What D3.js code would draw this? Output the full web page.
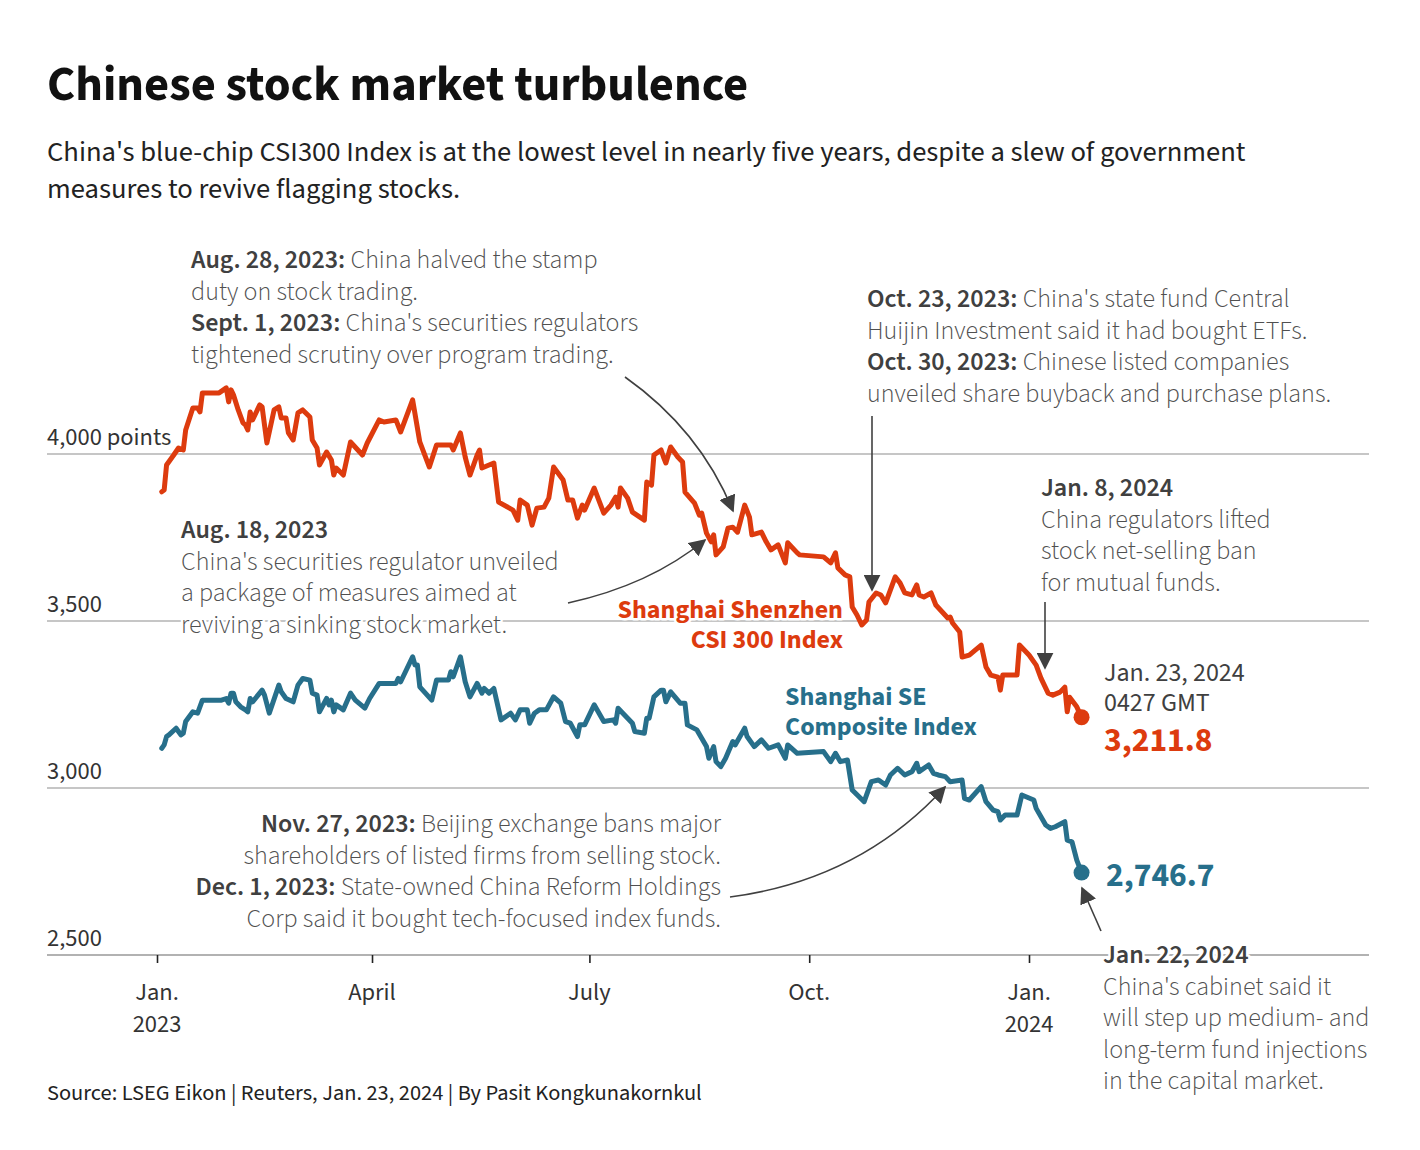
<!DOCTYPE html>
<html><head><meta charset="utf-8">
<script src="https://cdn.jsdelivr.net/npm/d3@7"></script>
<style>
html,body{margin:0;padding:0;background:#fff;}
svg{display:block;font-family:"Source Sans Pro","Source Sans 3",Lato,"Noto Sans",sans-serif;}
</style></head><body>
<svg id="c" width="1420" height="1150"></svg>
<script>
// ---------------- DATA ----------------
const csiDates = ["2023-01-03","2023-01-04","2023-01-05","2023-01-08","2023-01-10","2023-01-12","2023-01-13","2023-01-16","2023-01-18","2023-01-19","2023-01-20","2023-01-27","2023-01-30","2023-01-31","2023-02-01","2023-02-02","2023-02-04","2023-02-06","2023-02-07","2023-02-08","2023-02-09","2023-02-10","2023-02-13","2023-02-14","2023-02-16","2023-02-19","2023-02-21","2023-02-22","2023-02-24","2023-02-25","2023-02-27","2023-03-01","2023-03-03","2023-03-06","2023-03-07","2023-03-09","2023-03-10","2023-03-13","2023-03-15","2023-03-16","2023-03-17","2023-03-20","2023-03-23","2023-03-28","2023-03-30","2023-04-04","2023-04-06","2023-04-11","2023-04-13","2023-04-18","2023-04-21","2023-04-25","2023-04-28","2023-05-04","2023-05-05","2023-05-08","2023-05-10","2023-05-12","2023-05-15","2023-05-16","2023-05-17","2023-05-22","2023-05-24","2023-05-30","2023-06-01","2023-06-02","2023-06-05","2023-06-07","2023-06-09","2023-06-12","2023-06-14","2023-06-16","2023-06-20","2023-06-22","2023-06-24","2023-06-26","2023-06-28","2023-06-29","2023-07-03","2023-07-07","2023-07-10","2023-07-12","2023-07-13","2023-07-14","2023-07-17","2023-07-19","2023-07-24","2023-07-25","2023-07-27","2023-07-28","2023-07-31","2023-08-01","2023-08-02","2023-08-04","2023-08-07","2023-08-09","2023-08-10","2023-08-14","2023-08-16","2023-08-17","2023-08-19","2023-08-21","2023-08-22","2023-08-23","2023-08-26","2023-08-28","2023-08-30","2023-09-01","2023-09-04","2023-09-06","2023-09-07","2023-09-11","2023-09-13","2023-09-15","2023-09-18","2023-09-21","2023-09-22","2023-09-26","2023-09-27","2023-10-07","2023-10-10","2023-10-12","2023-10-13","2023-10-16","2023-10-18","2023-10-19","2023-10-21","2023-10-23","2023-10-25","2023-10-26","2023-10-29","2023-10-31","2023-11-02","2023-11-04","2023-11-06","2023-11-08","2023-11-10","2023-11-13","2023-11-15","2023-11-16","2023-11-18","2023-11-21","2023-11-23","2023-11-28","2023-11-29","2023-11-30","2023-12-03","2023-12-04","2023-12-07","2023-12-12","2023-12-14","2023-12-16","2023-12-19","2023-12-20","2023-12-21","2023-12-27","2023-12-28","2024-01-01","2024-01-04","2024-01-06","2024-01-09","2024-01-11","2024-01-14","2024-01-16","2024-01-17","2024-01-18","2024-01-21","2024-01-23"];
const csiValues = [3887,3892,3967,3997,4018,4012,4072,4138,4138,4126,4183,4183,4198,4156,4192,4177,4132,4093,4087,4072,4126,4102,4147,4141,4033,4132,4141,4108,4108,4063,4042,4123,4132,4111,4042,4018,3967,4006,3982,3937,3958,3937,4036,3997,4033,4102,4096,4102,4066,4162,4036,3961,4027,4027,4012,4063,3991,3937,3997,4012,3958,3973,3856,3832,3802,3862,3847,3787,3838,3841,3868,3961,3922,3862,3862,3808,3847,3832,3898,3823,3847,3871,3841,3898,3868,3826,3802,3916,3907,3997,4012,3991,3973,4021,3991,3976,3886,3853,3817,3823,3763,3737,3758,3698,3722,3778,3781,3766,3847,3811,3758,3766,3737,3713,3728,3674,3734,3704,3698,3692,3674,3704,3659,3638,3632,3542,3518,3488,3503,3557,3584,3578,3554,3593,3632,3614,3584,3578,3608,3578,3572,3584,3548,3509,3512,3494,3467,3392,3398,3428,3362,3338,3332,3293,3338,3338,3428,3398,3368,3329,3284,3278,3287,3302,3228,3272,3243,3211.8];

const sseDates = ["2023-01-03","2023-01-04","2023-01-05","2023-01-06","2023-01-09","2023-01-11","2023-01-12","2023-01-13","2023-01-16","2023-01-18","2023-01-20","2023-01-28","2023-01-30","2023-01-31","2023-02-01","2023-02-02","2023-02-03","2023-02-05","2023-02-07","2023-02-08","2023-02-09","2023-02-10","2023-02-14","2023-02-15","2023-02-17","2023-02-21","2023-02-22","2023-02-24","2023-02-27","2023-03-01","2023-03-03","2023-03-06","2023-03-07","2023-03-09","2023-03-10","2023-03-13","2023-03-14","2023-03-15","2023-03-16","2023-03-17","2023-03-20","2023-03-23","2023-03-25","2023-03-29","2023-03-31","2023-04-04","2023-04-11","2023-04-12","2023-04-13","2023-04-18","2023-04-19","2023-04-20","2023-04-21","2023-04-26","2023-04-28","2023-05-03","2023-05-04","2023-05-05","2023-05-08","2023-05-10","2023-05-12","2023-05-15","2023-05-17","2023-05-18","2023-05-20","2023-05-22","2023-05-25","2023-05-29","2023-05-31","2023-06-02","2023-06-05","2023-06-06","2023-06-08","2023-06-10","2023-06-13","2023-06-16","2023-06-19","2023-06-21","2023-06-23","2023-06-26","2023-06-27","2023-06-29","2023-07-03","2023-07-07","2023-07-11","2023-07-12","2023-07-13","2023-07-17","2023-07-19","2023-07-20","2023-07-24","2023-07-25","2023-07-26","2023-07-28","2023-07-31","2023-08-01","2023-08-02","2023-08-04","2023-08-08","2023-08-10","2023-08-11","2023-08-15","2023-08-17","2023-08-19","2023-08-20","2023-08-22","2023-08-23","2023-08-25","2023-08-27","2023-08-30","2023-08-31","2023-09-04","2023-09-05","2023-09-08","2023-09-11","2023-09-14","2023-09-18","2023-09-21","2023-09-22","2023-09-26","2023-10-07","2023-10-10","2023-10-12","2023-10-14","2023-10-17","2023-10-19","2023-10-24","2023-10-27","2023-10-30","2023-11-02","2023-11-04","2023-11-07","2023-11-10","2023-11-13","2023-11-15","2023-11-16","2023-11-20","2023-11-22","2023-11-24","2023-11-27","2023-11-29","2023-12-04","2023-12-05","2023-12-07","2023-12-12","2023-12-14","2023-12-17","2023-12-19","2023-12-20","2023-12-22","2023-12-27","2023-12-29","2024-01-03","2024-01-04","2024-01-08","2024-01-10","2024-01-12","2024-01-16","2024-01-17","2024-01-19","2024-01-21","2024-01-23"];
const sseValues = [3119,3129,3154,3159,3179,3159,3164,3199,3228,3224,3263,3263,3268,3254,3284,3284,3258,3243,3234,3228,3268,3258,3293,3278,3224,3308,3288,3268,3258,3308,3328,3323,3284,3278,3228,3268,3249,3263,3228,3249,3234,3284,3263,3239,3268,3313,3313,3328,3318,3393,3368,3368,3303,3263,3323,3323,3348,3333,3393,3318,3273,3313,3284,3298,3284,3298,3204,3224,3204,3234,3234,3194,3224,3234,3234,3273,3254,3199,3194,3154,3189,3189,3249,3199,3204,3194,3239,3209,3194,3169,3164,3209,3209,3273,3293,3293,3258,3288,3254,3254,3189,3174,3149,3124,3089,3124,3079,3064,3089,3139,3129,3179,3154,3124,3144,3119,3129,3089,3129,3104,3109,3079,3104,3079,3084,2994,2959,3019,3024,3009,3039,3059,3039,3049,3074,3049,3069,3044,3039,3034,3019,3024,2969,2964,3004,2959,2934,2929,2904,2919,2919,2979,2964,2939,2889,2879,2884,2899,2844,2839,2784,2746.7];

const yTickValues = [2500, 3000, 3500, 4000];
const yTickLabels = ["2,500", "3,000", "3,500", "4,000 points"];
const xTickDates = ["2023-01-01","2023-04-01","2023-07-01","2023-10-01","2024-01-01"];
const xTickLabels = [["Jan.","2023"],["April"],["July"],["Oct."],["Jan.","2024"]];
const seriesNames = [["Shanghai Shenzhen","CSI 300 Index"],["Shanghai SE","Composite Index"]];
const endLabels = ["3,211.8", "2,746.7"];

// ---------------- SETUP ----------------
const parse = d3.utcParse("%Y-%m-%d");
const csi = csiDates.map((d,i)=>({date:parse(d), value:csiValues[i]}));
const sse = sseDates.map((d,i)=>({date:parse(d), value:sseValues[i]}));

const RED = "#dd3b0e", TEAL = "#276f8b";
const svg = d3.select("#c");
const x = d3.scaleUtc().domain([parse("2023-01-01"), parse("2024-01-01")]).range([157, 1029]);
const y = d3.scaleLinear().domain([2500, 4000]).range([955, 454]);
const gridX0 = 47, gridX1 = 1369;

// Title / subtitle
svg.append("text").attr("x",47).attr("y",100).attr("font-size",48.5).attr("font-weight",700).attr("fill","#111")
  .text("Chinese stock market turbulence");
const sub = ["China's blue-chip CSI300 Index is at the lowest level in nearly five years, despite a slew of government",
             "measures to revive flagging stocks."];
sub.forEach((s,i)=>svg.append("text").attr("x",47).attr("y",161+i*37).attr("font-size",28.6).attr("font-weight",400).attr("fill","#222").text(s));

// Gridlines
const grid = svg.append("g");
yTickValues.forEach((v,i)=>{
  grid.append("line").attr("x1",gridX0).attr("x2",gridX1).attr("y1",y(v)).attr("y2",y(v))
    .attr("stroke", i===0 ? "#999" : "#b3b3b3").attr("stroke-width", i===0?1.6:1.4);
  grid.append("text").attr("x",gridX0).attr("y",y(v)-9).attr("font-size",24.5).attr("fill","#333").text(yTickLabels[i]);
});

// X axis
const xAxis = d3.axisBottom(x).tickValues(xTickDates.map(parse)).tickSize(8).tickFormat("");
const ax = svg.append("g").attr("transform",`translate(0,${y(2500)})`).call(xAxis);
ax.select(".domain").remove();
ax.selectAll(".tick line").attr("stroke","#222").attr("stroke-width",1.6);
xTickDates.forEach((d,i)=>{
  const t = svg.append("text").attr("text-anchor","middle").attr("font-size",24.5).attr("fill","#333");
  xTickLabels[i].forEach((l,j)=>t.append("tspan").attr("x",x(parse(d))).attr("y",1000+j*32).text(l));
});

// Lines
const line = d3.line().x(d=>x(d.date)).y(d=>y(d.value));
svg.append("path").datum(sse).attr("d",line).attr("fill","none").attr("stroke",TEAL).attr("stroke-width",5).attr("stroke-linejoin","round").attr("stroke-linecap","round");
svg.append("path").datum(csi).attr("d",line).attr("fill","none").attr("stroke",RED).attr("stroke-width",5).attr("stroke-linejoin","round").attr("stroke-linecap","round");
const lastC = csi[csi.length-1], lastS = sse[sse.length-1];
svg.append("circle").attr("cx",x(lastC.date)).attr("cy",y(lastC.value)).attr("r",8).attr("fill",RED);
svg.append("circle").attr("cx",x(lastS.date)).attr("cy",y(lastS.value)).attr("r",8).attr("fill",TEAL);

// Helper for annotation text with halo
function annot(xp, yp, lines, opts={}){
  const g = svg.append("g");
  const lh = opts.lh || 31.5, fs = opts.fs || 26, anchor = opts.anchor || "start";
  lines.forEach((segs,i)=>{
    const t = g.append("text").attr("x",xp).attr("y",yp+i*lh).attr("font-size",fs).attr("text-anchor",anchor)
      .attr("stroke","#fff").attr("stroke-width",5).attr("paint-order","stroke").attr("stroke-linejoin","round");
    segs.forEach(s=>{
      t.append("tspan").attr("font-weight", s.b ? 600 : 300).attr("fill", s.c || (s.b ? "#404040" : "#505050")).text(s.t);
    });
  });
  return g;
}

// Series labels
annot(843, 618, [[{t:seriesNames[0][0],b:1,c:RED}],[{t:seriesNames[0][1],b:1,c:RED}]], {anchor:"end", fs:26, lh:30}).selectAll("tspan").attr("font-weight",700);
annot(785, 705, [[{t:seriesNames[1][0],b:1,c:TEAL}],[{t:seriesNames[1][1],b:1,c:TEAL}]], {fs:26, lh:30}).selectAll("tspan").attr("font-weight",700);

// End labels
annot(1104, 681, [[{t:"Jan. 23, 2024"}],[{t:"0427 GMT"}]], {fs:26, lh:30}).selectAll("tspan").attr("font-weight",400).attr("fill","#404040");
svg.append("text").attr("x",1104).attr("y",751).attr("font-size",33.5).attr("font-weight",700).attr("fill",RED).text(endLabels[0]);
svg.append("text").attr("x",1106).attr("y",886).attr("font-size",33.5).attr("font-weight",700).attr("fill",TEAL).text(endLabels[1]);

// Annotations
annot(191, 268, [
  [{t:"Aug. 28, 2023:",b:1},{t:" China halved the stamp"}],
  [{t:"duty on stock trading."}],
  [{t:"Sept. 1, 2023:",b:1},{t:" China's securities regulators"}],
  [{t:"tightened scrutiny over program trading."}]
]);
annot(181, 538, [
  [{t:"Aug. 18, 2023",b:1}],
  [{t:"China's securities regulator unveiled"}],
  [{t:"a package of measures aimed at"}],
  [{t:"reviving a sinking stock market."}]
]);
annot(867, 307, [
  [{t:"Oct. 23, 2023:",b:1},{t:" China's state fund Central"}],
  [{t:"Huijin Investment said it had bought ETFs."}],
  [{t:"Oct. 30, 2023:",b:1},{t:" Chinese listed companies"}],
  [{t:"unveiled share buyback and purchase plans."}]
]);
annot(1041, 496, [
  [{t:"Jan. 8, 2024",b:1}],
  [{t:"China regulators lifted"}],
  [{t:"stock net-selling ban"}],
  [{t:"for mutual funds."}]
]);
annot(721, 832, [
  [{t:"Nov. 27, 2023:",b:1},{t:" Beijing exchange bans major"}],
  [{t:"shareholders of listed firms from selling stock."}],
  [{t:"Dec. 1, 2023:",b:1},{t:" State-owned China Reform Holdings"}],
  [{t:"Corp said it bought tech-focused index funds."}]
], {anchor:"end"});
annot(1103, 963, [
  [{t:"Jan. 22, 2024",b:1}],
  [{t:"China's cabinet said it"}],
  [{t:"will step up medium- and"}],
  [{t:"long-term fund injections"}],
  [{t:"in the capital market."}]
]);

// Arrows
const defs = svg.append("defs");
defs.append("marker").attr("id","ah").attr("viewBox","0 0 10 10").attr("refX",9).attr("refY",5)
  .attr("markerWidth",17).attr("markerHeight",17).attr("markerUnits","userSpaceOnUse").attr("orient","auto")
  .append("path").attr("d","M0,0 L10,5 L0,10 Z").attr("fill","#404040");
const arrows = [
  "M625,377 Q700,430 733,511",
  "M568,603 Q650,585 705,540",
  "M730,897 Q860,880 945,787",
  "M1101,931 L1082,888",
  "M872,416 L872,590",
  "M1045,602 L1045,668"
];
arrows.forEach(d=>svg.append("path").attr("d",d).attr("fill","none").attr("stroke","#404040").attr("stroke-width",1.6).attr("marker-end","url(#ah)"));

// Source
svg.append("text").attr("x",47).attr("y",1100).attr("font-size",22.4).attr("font-weight",400).attr("fill","#222")
  .text("Source: LSEG Eikon | Reuters, Jan. 23, 2024 | By Pasit Kongkunakornkul");
</script></body></html>
